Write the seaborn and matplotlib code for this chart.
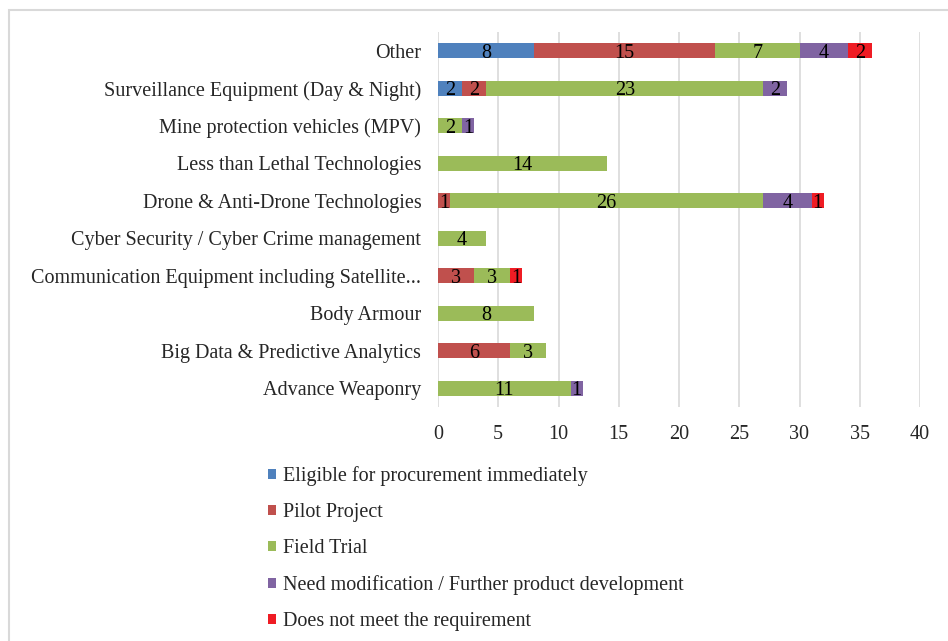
import numpy as np
import pandas as pd
import matplotlib
matplotlib.use("Agg")
import matplotlib.pyplot as plt
import seaborn as sns
from matplotlib.patches import Patch, Rectangle

# ---- data ----
categories = [
    "Other",
    "Surveillance Equipment (Day & Night)",
    "Mine protection vehicles (MPV)",
    "Less than Lethal Technologies",
    "Drone & Anti-Drone Technologies",
    "Cyber Security / Cyber Crime management",
    "Communication Equipment including Satellite...",
    "Body Armour",
    "Big Data & Predictive Analytics",
    "Advance Weaponry",
]
series_names = [
    "Eligible for procurement immediately",
    "Pilot Project",
    "Field Trial",
    "Need modification / Further product development",
    "Does not meet the requirement",
]
eligible = [8, 2, 0, 0, 0, 0, 0, 0, 0, 0]
pilot = [15, 2, 0, 0, 1, 0, 3, 0, 6, 0]
field_trial = [7, 23, 2, 14, 26, 4, 3, 8, 3, 11]
modification = [4, 2, 1, 0, 4, 0, 0, 0, 0, 1]
not_meet = [2, 0, 0, 0, 1, 0, 1, 0, 0, 0]
x_ticks = [0, 5, 10, 15, 20, 25, 30, 35, 40]

colors = ["#4F81BD", "#C0504D", "#9BBB59", "#8064A2", "#EF1C24"]

sns.set_style("white")
plt.rcParams['font.family'] = ['Liberation Serif', 'DejaVu Serif']

fig = plt.figure(figsize=(9.48, 6.41), dpi=100)
ax = fig.add_axes([438 / 948, 1 - 407 / 641, (920 - 438) / 948, (407 - 32) / 641])

values = np.array([eligible, pilot, field_trial, modification, not_meet])
cum = np.cumsum(values, axis=0)

df = pd.DataFrame({"category": categories})
for i in reversed(range(len(series_names))):
    df["cum"] = cum[i]
    sns.barplot(data=df, x="cum", y="category", order=categories, color=colors[i],
                orient="h", width=0.4, saturation=1, linewidth=0, ax=ax)

for i in range(len(series_names)):
    for j, v in enumerate(values[i]):
        if v > 0:
            ax.text(cum[i][j] - v / 2, j, str(v), ha="center", va="center_baseline",
                    fontsize=14.5, color="black")

ax.set_xlim(0, 40)
ax.set_xticks(x_ticks)
ax.set_xticklabels([str(t) for t in x_ticks])
ax.set_axisbelow(True)
ax.grid(axis="x", color="#D9D9D9", lw=1.2)
ax.grid(axis="y", visible=False)
for s in ax.spines.values():
    s.set_visible(False)
ax.set_xlabel("")
ax.set_ylabel("")
ax.tick_params(axis="y", length=0, pad=12, labelsize=14.5)
ax.tick_params(axis="x", length=0, pad=13, labelsize=14.5)

handles = [Patch(facecolor=c, edgecolor="none") for c in colors]
fig.legend(handles, series_names, loc="upper left",
           bbox_to_anchor=(268 / 948, 1 - 466 / 641), frameon=False, fontsize=14.5,
           handlelength=0.4, handleheight=0.4, handletextpad=0.35,
           labelspacing=0.85, borderpad=0, borderaxespad=0)

fig.patches.append(Rectangle((9 / 948, -0.1), 1.2, 1 - 10 / 641 + 0.1,
                             transform=fig.transFigure, fill=False,
                             edgecolor="#D9D9D9", lw=1.5))

fig.savefig("out.png", dpi=100)
